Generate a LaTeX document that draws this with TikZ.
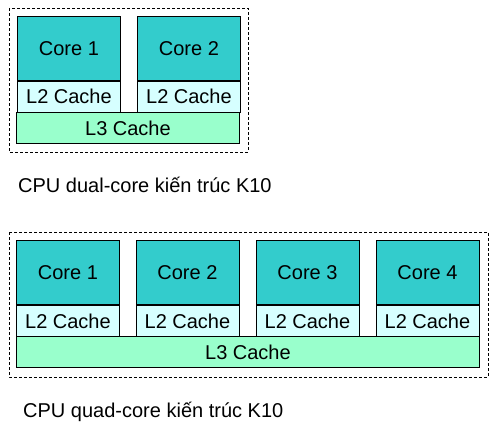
\documentclass[tikz,border=0pt]{standalone}
\usepackage{fontspec}
\setmainfont{Liberation Sans}
\usetikzlibrary{positioning}
\definecolor{coreteal}{RGB}{51,204,204}
\definecolor{ltwocyan}{RGB}{214,255,255}
\definecolor{lthreegreen}{RGB}{153,255,204}

\begin{document}
\begin{tikzpicture}[x=1pt,y=-1pt,
    blk/.style={draw=black, line width=0.9pt, inner sep=0pt, font=\fontsize{20}{24}\selectfont},
    core/.style={blk, fill=coreteal, minimum width=103pt, minimum height=64pt},
    ltwo/.style={blk, fill=ltwocyan, minimum width=103pt, minimum height=31pt},
    lthree/.style={blk, fill=lthreegreen, minimum height=31pt},
    chip/.style={draw=black, dash pattern=on 3pt off 2pt, line width=0.8pt},
    caption/.style={anchor=base west, inner sep=0pt, font=\fontsize{20}{24}\selectfont}]
    \useasboundingbox (0,0) rectangle (494,427);
    % dual-core
    \draw[chip] (9,8) rectangle (248,152);
    \foreach \i/\x in {1/17,2/137} {
      \node[core, anchor=north west] (dcore\i) at (\x,16) {Core \i};
      \node[ltwo, below=0pt of dcore\i] (dltwo\i) {L2 Cache};
    }
    \node[lthree, anchor=north west, minimum width=223pt] (dlthree) at (16,112) {L3 Cache};
    \node[caption] (dcap) at (18,193) {CPU dual-core kiến trúc K10};
    % quad-core
    \draw[chip] (9,232) rectangle (488,377);
    \foreach \i/\x in {1/16,2/135.5,3/255.5,4/375.5} {
      \node[core, anchor=north west] (qcore\i) at (\x,240) {Core \i};
      \node[ltwo, below=0pt of qcore\i] (qltwo\i) {L2 Cache};
    }
    \node[lthree, anchor=north west, minimum width=463pt] (qlthree) at (16,336) {L3 Cache};
    \node[caption] (qcap) at (23,417) {CPU quad-core kiến trúc K10};
\end{tikzpicture}
\end{document}
